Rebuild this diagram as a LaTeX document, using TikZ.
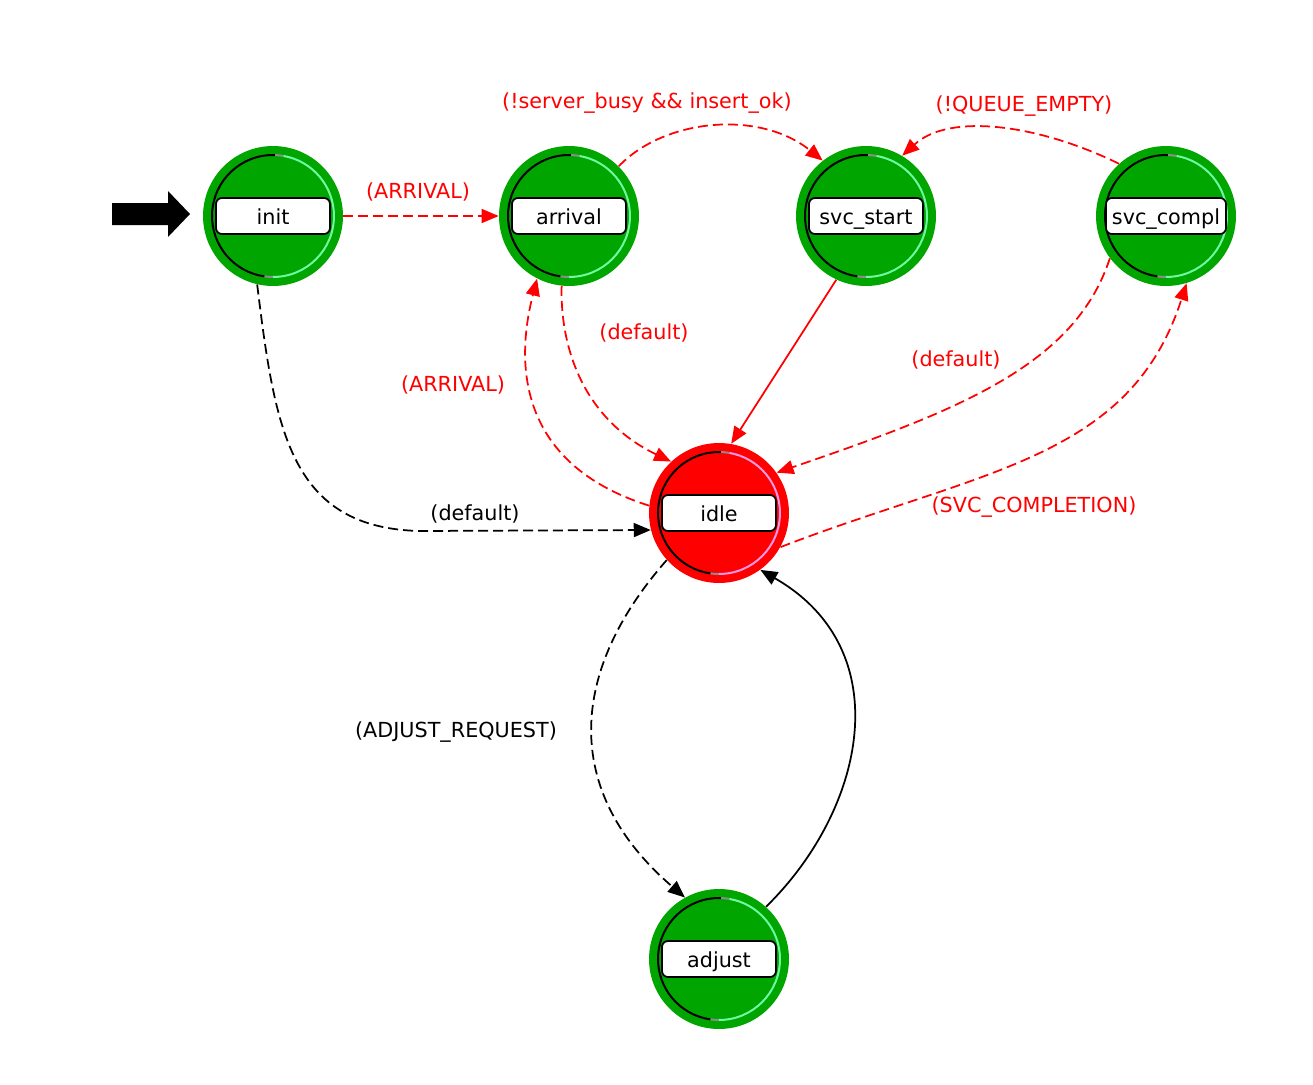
\documentclass[tikz,border=0pt]{standalone}
\usepackage{fontspec}
\setmainfont{DejaVu Sans}
\usepackage{tikz}
\usetikzlibrary{arrows.meta}

\definecolor{stategreen}{RGB}{0,165,0}
\definecolor{ringgreen}{RGB}{110,250,160}
\definecolor{statered}{RGB}{255,0,0}
\definecolor{ringpink}{RGB}{250,150,230}
\definecolor{ringgray}{RGB}{140,140,140}

\begin{document}
\begin{tikzpicture}[x=0.02cm, y=-0.02cm,
  every node/.style={font=\fontsize{11.8}{14}\selectfont},
  state/.style 2 args={circle, minimum size=2.8cm, inner sep=0pt, fill=#1,
    path picture={
      \draw[line width=0.04cm] ([shift={(88:1.22cm)}]path picture bounding box.center)
        arc[start angle=88, end angle=262, radius=1.22cm];
      \draw[ringgray, line width=0.04cm] ([shift={(80:1.22cm)}]path picture bounding box.center)
        arc[start angle=80, end angle=88, radius=1.22cm];
      \draw[ringgray, line width=0.04cm] ([shift={(262:1.22cm)}]path picture bounding box.center)
        arc[start angle=262, end angle=270, radius=1.22cm];
      \draw[#2, line width=0.04cm] ([shift={(-90:1.22cm)}]path picture bounding box.center)
        arc[start angle=-90, end angle=80, radius=1.22cm];
    }},
  box/.style={draw, fill=white, rounded corners=0.12cm, line width=0.035cm,
    minimum width=2.28cm, minimum height=0.72cm, inner ysep=0pt, inner xsep=0.12cm,
    text height=1.9ex, text depth=0.2ex},
  trans/.style={line width=0.035cm, -{Triangle[length=0.34cm,width=0.28cm]}},
  dtrans/.style={trans, dash pattern=on 0.2cm off 0.1cm}]
  \useasboundingbox (0,0) rectangle (1313,1085);

  \node[state={stategreen}{ringgreen}] (init) at (273,216) {};
  \node[box] (init-box) at (init) {init};
  \node[state={stategreen}{ringgreen}] (arrival) at (569,216) {};
  \node[box] (arrival-box) at (arrival) {arrival};
  \node[state={stategreen}{ringgreen}] (svcstart) at (866,216) {};
  \node[box] (svcstart-box) at (svcstart) {svc\_start};
  \node[state={stategreen}{ringgreen}] (svccompl) at (1166,216) {};
  \node[box] (svccompl-box) at (svccompl) {svc\_compl};
  \node[state={statered}{ringpink}] (idle) at (719,513) {};
  \node[box] (idle-box) at (idle) {idle};
  \node[state={stategreen}{ringgreen}] (adjust) at (719,959) {};
  \node[box] (adjust-box) at (adjust) {adjust};

  \coordinate (entry) at (112,214);
  \fill (entry) ++(0,-11) -- ++(56,0) -- ++(0,-12) -- ++(22,23) -- ++(-22,23)
    -- ++(0,-12) -- ++(-56,0) -- cycle;

  \draw[dtrans, red] (init) -- (arrival);
  \draw[dtrans, red] (arrival.45) .. controls (665,118) and (760,110) .. (svcstart.128);
  \draw[dtrans, red] (svccompl.132) .. controls (1040,125) and (950,112) .. (svcstart.59);
  \draw[trans, red] (svcstart.245) -- (idle.80);
  \draw[dtrans, red] (arrival.264) .. controls (560,350) and (585,420) .. (idle.133);
  \draw[dtrans, red] (idle.174) .. controls (505,460) and (520,345) .. (arrival.243);
  \draw[dtrans, red] (svccompl.217) .. controls (1075,365) and (960,410) .. (idle.35);
  \draw[dtrans, red] (idle.331) .. controls (980,470) and (1130,460) .. (svccompl.287);
  \draw[dtrans] (init.257) .. controls (275,430) and (290,528) .. (420,531) -- (idle.194);
  \draw[dtrans] (idle.222) .. controls (570,670) and (560,790) .. (adjust.119);
  \draw[trans] (adjust.48) .. controls (865,810) and (900,650) .. (idle.306);

  \node[red] (l-init-arrival) at (418,192) {(ARRIVAL)};
  \node[red] (l-arrival-start) at (647,103) {(!server\_busy \&\& insert\_ok)};
  \node[red] (l-compl-start) at (1024,106) {(!QUEUE\_EMPTY)};
  \node[red] (l-arrival-idle) at (644,333) {(default)};
  \node[red] (l-idle-arrival) at (453,385) {(ARRIVAL)};
  \node[red] (l-compl-idle) at (956,360) {(default)};
  \node[red] (l-idle-compl) at (1034,507) {(SVC\_COMPLETION)};
  \node (l-init-idle) at (475,514) {(default)};
  \node (l-idle-adjust) at (456,732) {(ADJUST\_REQUEST)};
\end{tikzpicture}
\end{document}
